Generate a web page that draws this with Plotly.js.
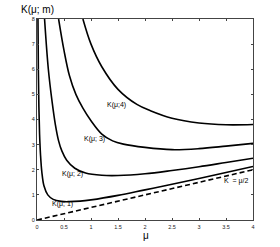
<!DOCTYPE html>
<html>
<head>
<meta charset="utf-8">
<script src="https://cdn.plot.ly/plotly-3.0.1.min.js"></script>
<style>html,body{margin:0;padding:0;background:#fff;}#chart{width:280px;height:247px;}</style>
</head>
<body>
<div id="chart"></div>
<script>
// m = 1
var mu1 = [0.018, 0.025, 0.035, 0.048, 0.065, 0.09, 0.13, 0.2, 0.3, 0.45, 0.6, 0.8, 1.0, 1.5, 2.0, 2.5, 3.0, 3.5, 4.0];
var k1  = [8.0,   6.0,   4.5,   3.4,   2.6,   1.9,  1.35, 1.0, 0.82, 0.74, 0.73, 0.75, 0.8, 0.98, 1.2, 1.42, 1.65, 1.89, 2.13];
// m = 2
var mu2 = [0.14, 0.21, 0.28, 0.34, 0.4, 0.46, 0.55, 0.7, 0.9, 1.2, 1.5, 2.0, 2.5, 3.0, 3.5, 4.0];
var k2  = [8.0,  6.0,  4.7,  3.8,  3.15, 2.75, 2.38, 2.06, 1.87, 1.78, 1.77, 1.84, 1.97, 2.12, 2.29, 2.46];
// m = 3
var mu3 = [0.4, 0.5, 0.6, 0.72, 0.85, 1.0, 1.2, 1.4, 1.6, 2.0, 2.5, 3.0, 3.5, 4.0];
var k3  = [8.0, 6.75, 5.75, 5.0, 4.45, 3.95, 3.42, 3.15, 3.02, 2.89, 2.8, 2.84, 2.94, 3.05];
// m = 4
var mu4 = [0.85, 1.0, 1.2, 1.5, 1.85, 2.1, 2.5, 3.0, 3.5, 4.0];
var k4  = [8.0,  7.0, 6.1, 5.2, 4.6,  4.35, 4.05, 3.86, 3.79, 3.8];
// asymptote K = mu/2
var muA = [0, 4];
var kA  = [0, 2];

var xTicks = [0, 0.5, 1, 1.5, 2, 2.5, 3, 3.5, 4];
var xTickText = ['0', '0.5', '1', '1.5', '2', '2.5', '3', '3.5', '4'];
var yTicks = [0, 1, 2, 3, 4, 5, 6, 7, 8];

var labels = ['K(μ; 1)', 'K(μ; 2)', 'K(μ; 3)', 'K(μ;4)', 'K  = μ/2'];
var labelMu = [0.47, 0.665, 1.06, 1.48, 3.69];
var labelK  = [0.63, 1.83, 3.24, 4.57, 1.57];

var FONT = 'Liberation Sans, Arial, sans-serif';

function curve(x, y) {
  return {x: x, y: y, type: 'scatter', mode: 'lines',
          line: {color: '#000', width: 1.6, shape: 'spline', smoothing: 1}, hoverinfo: 'skip'};
}
var traces = [curve(mu1, k1), curve(mu2, k2), curve(mu3, k3), curve(mu4, k4),
  {x: muA, y: kA, type: 'scatter', mode: 'lines', line: {color: '#000', width: 1.6, dash: '5px,3px'}}];

var ann = labels.map(function (t, i) {
  return {x: labelMu[i], y: labelK[i], xref: 'x', yref: 'y', text: t, showarrow: false,
          xanchor: 'center', yanchor: 'middle',
          font: {family: FONT, size: 7, color: '#000'}};
});
ann.push({x: 0, y: 1.045, xref: 'x domain', yref: 'y domain', text: 'K(μ; m)', showarrow: false,
          xanchor: 'center', yanchor: 'middle',
          font: {family: FONT, size: 10, color: '#000'}});
ann.push({x: 0.505, y: -0.079, xref: 'x domain', yref: 'y domain', text: 'μ', showarrow: false,
          xanchor: 'center', yanchor: 'middle',
          font: {family: FONT, size: 10, color: '#000'}});

var layout = {
  width: 280, height: 247,
  margin: {l: 36.5, r: 27, t: 19, b: 27.3, pad: 0},
  paper_bgcolor: '#fff', plot_bgcolor: '#fff',
  showlegend: false,
  font: {family: FONT, color: '#000'},
  xaxis: {range: [0, 4], tickvals: xTicks, ticktext: xTickText, ticks: 'inside', ticklen: 2,
          tickcolor: '#444', showline: true, linecolor: '#444', linewidth: 1, mirror: 'ticks',
          showgrid: false, zeroline: false, tickfont: {size: 5.5, color: '#222'}, ticklabelstandoff: 1},
  yaxis: {range: [0, 8], tickvals: yTicks, ticks: 'inside', ticklen: 2,
          tickcolor: '#444', showline: true, linecolor: '#444', linewidth: 1, mirror: 'ticks',
          showgrid: false, zeroline: false, tickfont: {size: 5.5, color: '#222'}},
  annotations: ann
};
Plotly.newPlot('chart', traces, layout, {staticPlot: true, displayModeBar: false});
</script>
</body>
</html>
